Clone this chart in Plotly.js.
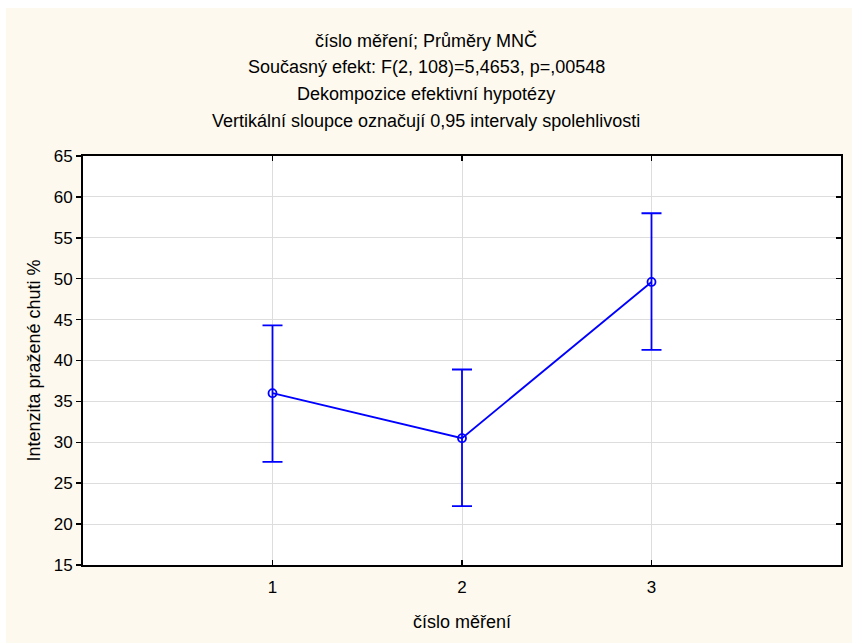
<!DOCTYPE html>
<html><head><meta charset="utf-8">
<script src="https://cdn.plot.ly/plotly-3.0.1.min.js"></script>
<style>html,body{margin:0;padding:0;background:#fff;}#c{position:absolute;left:6px;top:8px;width:846px;height:635px;}</style>
</head><body><div id="c"></div>
<script>
const categories = [1, 2, 3];
const means = [36.0, 30.5, 49.6];
const upper = [44.3, 38.9, 58.0];
const lower = [27.6, 22.2, 41.3];
const yTicks = [15, 20, 25, 30, 35, 40, 45, 50, 55, 60, 65];
const titleLines = ["číslo měření; Průměry MNČ", "Současný efekt: F(2, 108)=5,4653, p=,00548", "Dekompozice efektivní hypotézy", "Vertikální sloupce označují 0,95 intervaly spolehlivosti"];
const xTitle = "číslo měření";
const yTitle = "Intenzita pražené chuti %";

const F = "Liberation Sans, Arial, sans-serif";
const FS = 17;
const FT = 18;
const blue = "#0000ff";
const plusErr = means.map((m, i) => upper[i] - m);
const minusErr = means.map((m, i) => m - lower[i]);

const trace = {
  x: categories, y: means, type: "scatter", mode: "lines+markers",
  line: {color: blue, width: 1.8},
  marker: {symbol: "circle-open", size: 8, color: blue, line: {width: 1.8, color: blue}},
  error_y: {type: "data", symmetric: false, array: plusErr, arrayminus: minusErr, color: blue, thickness: 1.8, width: 10},
  showlegend: false, hoverinfo: "none"
};
const dummy = {x: [categories[0]], y: [means[0]], yaxis: "y2", type: "scatter", mode: "markers", marker: {opacity: 0}, showlegend: false, hoverinfo: "none"};

const plotBottom = 565, plotH = 409;
const lineY = [40, 67, 94, 121];
const anns = titleLines.map((t, i) => ({
  text: t, xref: "paper", yref: "paper", x: (426 - 83) / 758, y: (plotBottom - lineY[i]) / plotH,
  xanchor: "center", yanchor: "middle", showarrow: false, font: {family: F, size: FT, color: "#000"}
}));
anns.push({text: xTitle, xref: "paper", yref: "paper", x: 0.5, y: (plotBottom - 622) / plotH, xanchor: "center", yanchor: "middle", showarrow: false, font: {family: F, size: FT, color: "#000"}});
anns.push({text: yTitle, xref: "paper", yref: "paper", x: (33 - 83) / 758, y: 0.5, xanchor: "center", yanchor: "middle", textangle: -90, showarrow: false, font: {family: F, size: FT, color: "#000"}});

const layout = {
  width: 846, height: 635,
  margin: {l: 77, r: 11, t: 148, b: 78, pad: 0},
  paper_bgcolor: "#fdf9ee", plot_bgcolor: "#ffffff",
  font: {family: F, size: FS, color: "#000"},
  xaxis: {range: [0, 4], tickvals: categories, ticktext: categories.map(String), ticks: "inside", ticklen: 5, tickwidth: 1.5, tickcolor: "#000",
    showline: true, linecolor: "#000", linewidth: 2, mirror: "ticks", showgrid: true, gridcolor: "#dddddd", gridwidth: 1, zeroline: false,
    tickfont: {family: F, size: FS}, ticklabelstandoff: 6, fixedrange: true},
  yaxis: {range: [15, 65], tickvals: yTicks, ticks: "outside", ticklen: 5, tickwidth: 1.5, tickcolor: "#000",
    showline: true, linecolor: "#000", linewidth: 2, mirror: true, showgrid: true, gridcolor: "#dddddd", gridwidth: 1, zeroline: false,
    tickfont: {family: F, size: FS}, fixedrange: true},
  yaxis2: {range: [15, 65], tickvals: yTicks, overlaying: "y", side: "right", ticks: "inside", ticklen: 5, tickwidth: 1.5, tickcolor: "#000",
    showticklabels: false, showgrid: false, zeroline: false, showline: false, fixedrange: true},
  annotations: anns
};
Plotly.newPlot("c", [trace, dummy], layout, {displayModeBar: false, staticPlot: true});
</script></body></html>
